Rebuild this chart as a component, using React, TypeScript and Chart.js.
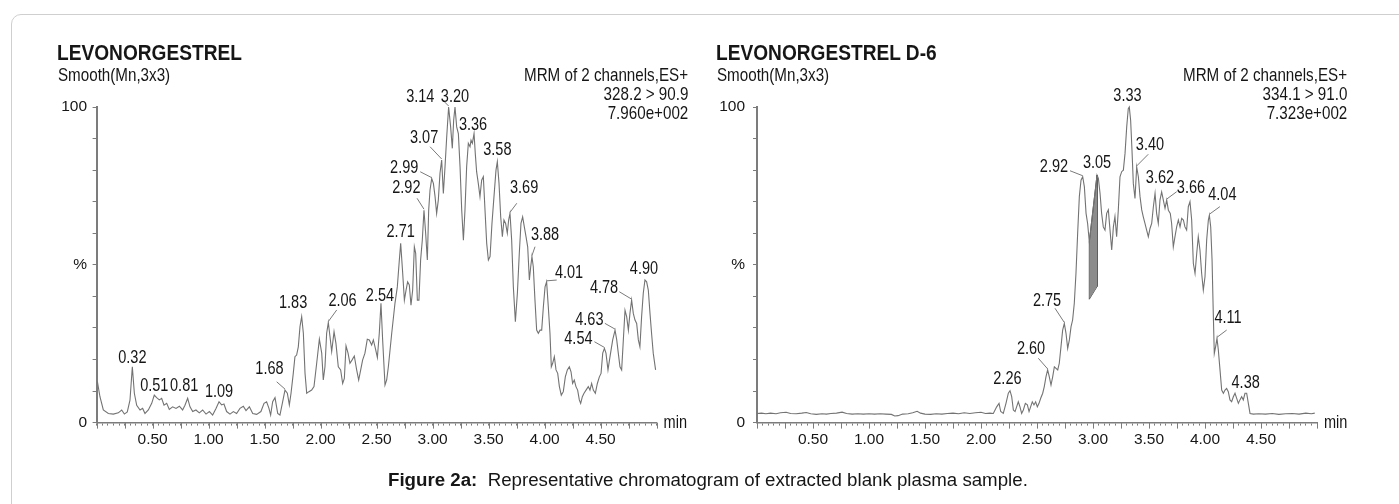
import React, { useEffect, useRef } from 'react';
import { Chart, registerables } from 'chart.js';

Chart.register(...registerables);

// ---------------- data ----------------
// LEVONORGESTREL (left): retention time (min) and relative intensity (%)
const levoTime = [
  0.007, 0.030, 0.060, 0.105, 0.149, 0.194, 0.224, 0.248, 0.274, 0.298,
  0.319, 0.337, 0.358, 0.388, 0.411, 0.432, 0.462, 0.492, 0.515, 0.536,
  0.560, 0.581, 0.602, 0.626, 0.649, 0.679, 0.709, 0.739, 0.768, 0.789,
  0.813, 0.834, 0.858, 0.887, 0.917, 0.947, 0.977, 1.007, 1.036, 1.066,
  1.093, 1.116, 1.137, 1.161, 1.191, 1.221, 1.250, 1.280, 1.310, 1.334,
  1.364, 1.394, 1.429, 1.467, 1.495, 1.518, 1.539, 1.554, 1.572, 1.593,
  1.617, 1.637, 1.661, 1.682, 1.703, 1.721, 1.736, 1.756, 1.771, 1.786,
  1.801, 1.816, 1.831, 1.846, 1.861, 1.876, 1.896, 1.920, 1.941, 1.965,
  1.989, 2.010, 2.024, 2.039, 2.054, 2.069, 2.084, 2.099, 2.120, 2.137,
  2.158, 2.179, 2.197, 2.212, 2.227, 2.245, 2.262, 2.280, 2.301, 2.322,
  2.340, 2.358, 2.375, 2.396, 2.417, 2.435, 2.456, 2.471, 2.489, 2.507,
  2.524, 2.539, 2.554, 2.575, 2.590, 2.605, 2.635, 2.664, 2.685, 2.703,
  2.715, 2.733, 2.748, 2.763, 2.777, 2.792, 2.807, 2.822, 2.837, 2.849,
  2.864, 2.878, 2.893, 2.908, 2.923, 2.938, 2.953, 2.965, 2.977, 2.992,
  3.007, 3.022, 3.036, 3.051, 3.066, 3.081, 3.096, 3.111, 3.126, 3.143,
  3.161, 3.176, 3.188, 3.200, 3.215, 3.230, 3.245, 3.260, 3.275, 3.289,
  3.304, 3.319, 3.334, 3.343, 3.355, 3.370, 3.381, 3.393, 3.408, 3.423,
  3.438, 3.453, 3.468, 3.483, 3.498, 3.513, 3.530, 3.548, 3.566, 3.578,
  3.593, 3.608, 3.623, 3.637, 3.652, 3.667, 3.679, 3.691, 3.706, 3.721,
  3.739, 3.757, 3.774, 3.789, 3.804, 3.819, 3.834, 3.849, 3.864, 3.876,
  3.887, 3.899, 3.914, 3.929, 3.944, 3.959, 3.974, 3.989, 4.004, 4.018,
  4.033, 4.048, 4.060, 4.072, 4.087, 4.102, 4.117, 4.132, 4.149, 4.167,
  4.185, 4.203, 4.221, 4.236, 4.250, 4.265, 4.280, 4.295, 4.310, 4.322,
  4.337, 4.352, 4.370, 4.390, 4.405, 4.420, 4.435, 4.453, 4.471, 4.489,
  4.504, 4.519, 4.534, 4.548, 4.566, 4.584, 4.608, 4.629, 4.644, 4.658,
  4.673, 4.688, 4.703, 4.718, 4.733, 4.748, 4.762, 4.777, 4.792, 4.807,
  4.822, 4.837, 4.851, 4.866, 4.881, 4.896, 4.911, 4.926, 4.941, 4.955,
  4.970, 4.991,
];
const levoPct = [
  13.0, 8.2, 4.0, 2.9, 2.7, 3.1, 4.0, 2.7, 3.4, 7.1,
  17.7, 9.3, 5.5, 4.0, 4.5, 2.9, 4.0, 6.1, 8.7, 7.9,
  7.2, 7.7, 5.5, 6.1, 4.2, 5.0, 4.5, 5.2, 4.0, 5.5,
  7.7, 5.0, 3.5, 4.0, 3.1, 4.0, 2.7, 3.5, 2.4, 4.5,
  6.6, 5.6, 5.9, 3.5, 2.7, 3.5, 2.9, 4.5, 5.2, 3.8,
  5.0, 2.9, 2.6, 3.5, 6.1, 6.6, 4.5, 2.4, 6.6, 7.9,
  2.9, 2.4, 6.6, 10.3, 9.3, 5.6, 9.3, 15.6, 20.9, 21.4,
  24.0, 30.4, 33.6, 28.3, 15.6, 9.3, 9.8, 10.3, 11.4, 18.8,
  26.4, 22.0, 13.5, 17.7, 28.3, 31.7, 27.2, 22.5, 28.8, 25.1,
  17.7, 16.7, 12.4, 14.0, 24.3, 22.0, 18.8, 19.8, 21.1, 16.7,
  13.5, 16.7, 19.8, 22.0, 26.4, 26.2, 24.6, 26.2, 23.5, 20.6,
  28.3, 37.8, 26.2, 11.9, 13.5, 17.7, 28.3, 37.8, 43.0, 51.5,
  56.8, 47.3, 38.8, 42.0, 44.6, 43.6, 37.2, 42.0, 55.7, 53.6,
  38.8, 38.8, 51.5, 57.8, 67.3, 60.0, 51.5, 67.3, 73.7, 77.3,
  75.8, 71.6, 66.3, 70.5, 79.0, 83.2, 72.6, 81.1, 90.6, 100,
  93.7, 86.9, 95.8, 100, 93.7, 91.6, 81.1, 67.3, 57.8, 67.3,
  81.1, 88.5, 87.4, 89.5, 88.5, 91.6, 85.3, 79.5, 75.8, 71.6,
  76.8, 77.9, 67.3, 56.8, 51.5, 52.6, 63.1, 71.6, 80.0, 82.7,
  75.8, 65.2, 58.9, 64.2, 63.1, 60.0, 64.2, 66.3, 57.8, 43.0,
  32.0, 41.0, 53.6, 63.1, 65.2, 62.0, 58.9, 55.7, 45.2, 49.4,
  52.6, 49.4, 38.8, 29.3, 28.3, 29.3, 29.3, 36.7, 43.0, 44.6,
  36.7, 28.3, 17.7, 18.8, 20.9, 16.7, 15.6, 11.4, 8.7, 9.8,
  14.5, 16.7, 17.7, 16.1, 12.4, 13.5, 11.4, 10.3, 7.2, 6.1,
  8.2, 9.3, 10.3, 11.4, 10.3, 12.4, 10.3, 9.3, 12.4, 14.5,
  15.6, 22.0, 23.5, 22.0, 16.7, 20.9, 26.2, 29.3, 26.2, 22.0,
  17.7, 16.7, 26.2, 35.6, 33.5, 29.3, 34.6, 38.8, 34.6, 32.5,
  31.4, 26.2, 24.0, 33.5, 41.0, 45.2, 44.6, 42.0, 34.6, 28.3,
  22.0, 16.7,
];
const levoPeakTimes = [0.32, 0.51, 0.81, 1.09, 1.68, 1.83, 2.06, 2.54, 2.71, 2.92, 2.99, 3.07, 3.14, 3.20, 3.36, 3.58, 3.69, 3.88, 4.01, 4.54, 4.63, 4.78, 4.90];
const levoPeakText = ['0.32', '0.51', '0.81', '1.09', '1.68', '1.83', '2.06', '2.54', '2.71', '2.92', '2.99', '3.07', '3.14', '3.20', '3.36', '3.58', '3.69', '3.88', '4.01', '4.54', '4.63', '4.78', '4.90'];
const levoHeader = ['MRM of 2 channels,ES+', '328.2 > 90.9', '7.960e+002'];

// LEVONORGESTREL D-6 (right)
const d6Time = [
  0.00, 0.04, 0.08, 0.12, 0.17, 0.21, 0.26, 0.30, 0.35, 0.40,
  0.44, 0.48, 0.53, 0.58, 0.62, 0.66, 0.71, 0.76, 0.80, 0.85,
  0.90, 0.95, 1.00, 1.05, 1.10, 1.15, 1.20, 1.23, 1.26, 1.30,
  1.35, 1.39, 1.43, 1.46, 1.50, 1.55, 1.60, 1.65, 1.70, 1.75,
  1.80, 1.85, 1.90, 1.95, 2.00, 2.04, 2.08, 2.11,
  2.140, 2.161, 2.176, 2.199, 2.223, 2.244, 2.259, 2.274, 2.289, 2.304,
  2.318, 2.333, 2.348, 2.363, 2.378, 2.396, 2.414, 2.429, 2.443, 2.458,
  2.473, 2.488, 2.503, 2.518, 2.533, 2.551, 2.565, 2.580, 2.595, 2.610,
  2.625, 2.640, 2.655, 2.670, 2.685, 2.699, 2.714, 2.729, 2.744, 2.759,
  2.774, 2.789, 2.804, 2.818, 2.833, 2.848, 2.863, 2.878, 2.893, 2.908,
  2.923, 2.938, 2.952, 2.967, 3.036, 3.048, 3.063, 3.077, 3.092, 3.107,
  3.122, 3.137, 3.152, 3.167, 3.182, 3.196, 3.211, 3.226, 3.241, 3.256,
  3.271, 3.286, 3.301, 3.315, 3.324, 3.336, 3.348, 3.360, 3.375, 3.390,
  3.405, 3.420, 3.435, 3.449, 3.464, 3.479, 3.494, 3.509, 3.524, 3.539,
  3.554, 3.568, 3.583, 3.598, 3.613, 3.628, 3.643, 3.658, 3.673, 3.690,
  3.702, 3.717, 3.732, 3.747, 3.762, 3.777, 3.792, 3.807, 3.821, 3.836,
  3.851, 3.866, 3.881, 3.896, 3.911, 3.926, 3.940, 3.955, 3.970, 3.985,
  4.000, 4.015, 4.030, 4.039, 4.051, 4.063, 4.074, 4.083, 4.095, 4.107,
  4.119, 4.134, 4.149, 4.164, 4.179, 4.193, 4.208, 4.223, 4.238, 4.253,
  4.268, 4.283, 4.298, 4.312, 4.327, 4.342, 4.357, 4.372, 4.387, 4.402,
  4.432, 4.48, 4.54, 4.60, 4.66, 4.72, 4.78, 4.84, 4.90, 4.95,
  4.98,
];
const d6Pct = [
  2.9, 3.0, 2.8, 3.0, 2.8, 3.1, 3.3, 2.9, 2.8, 3.0,
  3.2, 2.8, 2.6, 2.8, 2.7, 2.9, 3.0, 3.3, 2.9, 2.7,
  2.8, 2.7, 2.8, 2.7, 2.8, 2.7, 2.6, 2.1, 2.2, 2.7,
  2.8, 3.1, 3.6, 3.0, 2.7, 2.6, 2.8, 2.7, 2.9, 3.0,
  2.8, 3.1, 2.9, 3.1, 3.3, 2.9, 3.0, 2.9,
  5.0, 6.1, 3.5, 2.9, 6.1, 9.3, 10.1, 8.2, 4.0, 3.5,
  5.0, 6.6, 5.0, 2.9, 4.0, 6.1, 5.6, 3.5, 5.0, 6.6,
  5.6, 6.6, 5.0, 6.1, 7.7, 9.3, 11.4, 14.5, 16.7, 14.5,
  11.9, 14.5, 17.7, 17.2, 16.7, 18.8, 24.0, 29.3, 31.4, 28.3,
  23.5, 26.2, 30.4, 32.5, 37.8, 47.3, 60.0, 71.6, 76.8, 77.9,
  74.7, 66.3, 63.1, 57.3, 78.4, 77.4, 72.6, 66.3, 62.0, 61.0,
  66.3, 67.4, 61.0, 54.7, 62.0, 65.3, 58.9, 67.4, 77.9, 79.5,
  80.0, 85.3, 93.7, 99.5, 100, 95.8, 86.4, 75.8, 71.0, 81.0,
  77.9, 71.6, 67.4, 65.2, 63.1, 61.0, 58.9, 61.5, 63.1, 68.4,
  72.6, 66.3, 63.1, 70.5, 73.1, 70.5, 67.9, 70.5, 67.3, 66.3,
  63.1, 55.7, 58.9, 62.0, 64.2, 62.0, 64.7, 64.2, 62.0, 61.0,
  68.4, 70.0, 64.2, 50.4, 47.3, 53.6, 58.9, 54.7, 47.3, 42.0,
  46.2, 57.9, 64.2, 65.7, 62.0, 51.5, 34.6, 21.9, 24.1, 26.7,
  23.0, 16.7, 10.3, 9.3, 10.3, 10.8, 9.8, 7.2, 6.6, 8.2,
  9.3, 7.7, 6.1, 7.2, 8.2, 7.2, 9.3, 9.3, 6.1, 2.9,
  2.7, 2.8, 2.7, 2.9, 2.6, 2.8, 2.9, 2.7, 3.0, 2.8,
  3.0,
];
const d6PeakTimes = [2.26, 2.60, 2.75, 2.92, 3.05, 3.33, 3.40, 3.62, 3.66, 4.04, 4.11, 4.38];
const d6PeakText = ['2.26', '2.60', '2.75', '2.92', '3.05', '3.33', '3.40', '3.62', '3.66', '4.04', '4.11', '4.38'];
// integrated (shaded) peak area
const d6AreaTime = [2.967, 3.036];
const d6AreaTop = [57.3, 78.4];
const d6AreaBase = [39.1, 43.1];
const d6Header = ['MRM of 2 channels,ES+', '334.1 > 91.0', '7.323e+002'];

// axis labels
const xTickValues = [0.5, 1.0, 1.5, 2.0, 2.5, 3.0, 3.5, 4.0, 4.5];
const xTickLabels = ['0.50', '1.00', '1.50', '2.00', '2.50', '3.00', '3.50', '4.00', '4.50'];
const yLabelValues = [0, 50, 100];
const yLabelText = ['0', '%', '100'];

// ---------------- layout / style ----------------
const PAGE_W = 1399;
const CANVAS_H = 504;
const PLOT_TOP = 107;
const PLOT_BOTTOM = 422.6;
const X_AXIS_H = 30;
const FONT = '"Liberation Sans", Arial, Helvetica, sans-serif';
const AXIS_COLOR = '#7c7c7c';
const TRACE_COLOR = '#737373';
const TEXT_COLOR = '#161616';
const LABEL_SIZE = 17.5;
const LABEL_SCALE = 0.83;
const TICK_SIZE = 15.5;

type Lbl = { dx: number; dy: number; lead: [number, number] | null };
const L = (dx: number, dy: number, lead: [number, number] | null = null): Lbl => ({ dx, dy, lead });

// label offsets (px) relative to the peak apex
const levoLabelLayout: Lbl[] = [
  L(0, -9), L(0, -9), L(-3.5, -12), L(0, -9.5), L(-15.5, -20.7, [-8.3, -8.3]),
  L(-8.6, -13.6), L(14.2, -21, [8.4, -12.6]), L(-1, -7.5), L(0, -11.6),
  L(-17.6, -21.9, [-6.9, -11.9]), L(-27.5, -10.3, [-11.5, -6.9]), L(-17.6, -21.7, [-11.6, -13.3]),
  L(-28.3, -10.3, [-5, -6]), L(0, -10.3), L(-1, -8), L(0, -11.6),
  L(14.1, -25.1, [6.8, -10.1]), L(13.1, -21.6, [3.1, -9.9]), L(22.4, -8.5, [10.1, -1.8]),
  L(-26, -9.1, [-10, -6.7]), L(-25.7, -10.1, [-10.2, -6.8]), L(-27.6, -11.8, [-12.3, -8.4]), L(-1, -10.7),
];
const d6LabelLayout: Lbl[] = [
  L(-2.6, -11.4), L(-16.6, -20.6, [-9.3, -11.6]), L(-17.3, -22.5, [-9.3, -15.2]),
  L(-28.7, -10, [-12.7, -6]), L(0, -12), L(-1.8, -11), L(13.3, -22, [11.6, -12.7]),
  L(-1.7, -13.6), L(24.3, -11.8, [10, -8.4]), L(13, -20.3, [10.5, -8.6]),
  L(11, -20, [9.7, -8.3]), L(-1, -10),
];

interface PanelSpec {
  time: number[];
  pct: number[];
  peakTimes: number[];
  peakText: string[];
  labelLayout: Lbl[];
  yAxisWidth: number;
  rightPad: number;
  yLabelPad: number;
  area?: { time: number[]; top: number[]; base: number[] };
}

const leftSpec: PanelSpec = {
  time: levoTime, pct: levoPct, peakTimes: levoPeakTimes, peakText: levoPeakText,
  labelLayout: levoLabelLayout, yAxisWidth: 96.6, rightPad: 43.4, yLabelPad: 5.5,
};
const rightSpec: PanelSpec = {
  time: d6Time, pct: d6Pct, peakTimes: d6PeakTimes, peakText: d6PeakText,
  labelLayout: d6LabelLayout, yAxisWidth: 57, rightPad: 82, yLabelPad: 8,
  area: { time: d6AreaTime, top: d6AreaTop, base: d6AreaBase },
};

function peakIndex(time: number[], pct: number[], t: number): number {
  let best = -1;
  for (let i = 0; i < time.length; i++) {
    if (Math.abs(time[i] - t) <= 0.02 && (best < 0 || pct[i] > pct[best])) best = i;
  }
  if (best < 0) {
    let d = Infinity;
    time.forEach((v, i) => { if (Math.abs(v - t) < d) { d = Math.abs(v - t); best = i; } });
  }
  return best;
}

function drawCondensed(ctx: CanvasRenderingContext2D, text: string, x: number, y: number, align: CanvasTextAlign) {
  ctx.save();
  ctx.translate(x, y);
  ctx.scale(LABEL_SCALE, 1);
  ctx.textAlign = align;
  ctx.textBaseline = 'middle';
  ctx.fillText(text, 0, 0);
  ctx.restore();
}

function makeChart(canvas: HTMLCanvasElement, spec: PanelSpec) {
  const datasets: any[] = [
    {
      data: spec.time.map((t, i) => ({ x: t, y: spec.pct[i] })),
      borderColor: TRACE_COLOR,
      borderWidth: 1.1,
      pointRadius: 0,
      tension: 0,
      fill: false,
      clip: 4,
    },
  ];
  if (spec.area) {
    const a = spec.area;
    datasets.push({
      data: a.time.map((t, i) => ({ x: t, y: a.top[i] })),
      borderColor: '#4e4e4e', borderWidth: 1, pointRadius: 0, tension: 0,
      backgroundColor: '#8c8c8c', fill: '+1',
    });
    datasets.push({
      data: a.time.map((t, i) => ({ x: t, y: a.base[i] })),
      borderColor: '#4e4e4e', borderWidth: 1, pointRadius: 0, tension: 0, fill: false,
    });
    datasets.push({
      data: [
        { x: a.time[0], y: a.base[0] }, { x: a.time[0], y: a.top[0] },
        { x: (a.time[0] + a.time[1]) / 2, y: null },
        { x: a.time[1], y: a.top[1] }, { x: a.time[1], y: a.base[1] },
      ],
      borderColor: '#4e4e4e', borderWidth: 1, pointRadius: 0, tension: 0, fill: false, spanGaps: false,
    });
  }

  const decor = {
    id: 'chromDecor',
    afterDatasetsDraw(chart: any) {
      const ctx: CanvasRenderingContext2D = chart.ctx;
      const xs = chart.scales.x;
      const ys = chart.scales.y;
      ctx.save();
      // longer ticks every 0.25 min
      ctx.strokeStyle = AXIS_COLOR;
      ctx.lineWidth = 1;
      for (let k = 0; k <= 20; k++) {
        const px = Math.round(xs.getPixelForValue(k * 0.25)) + 0.5;
        ctx.beginPath();
        ctx.moveTo(px, ys.bottom);
        ctx.lineTo(px, ys.bottom + 6);
        ctx.stroke();
      }
      ctx.fillStyle = TEXT_COLOR;
      ctx.font = `${LABEL_SIZE}px ${FONT}`;
      drawCondensed(ctx, 'min', xs.right + 7, ys.bottom + 1, 'left');
      // peak labels
      spec.peakTimes.forEach((t, i) => {
        const idx = peakIndex(spec.time, spec.pct, t);
        const px = xs.getPixelForValue(spec.time[idx]);
        const py = ys.getPixelForValue(spec.pct[idx]);
        const lay = spec.labelLayout[i];
        if (lay.lead) {
          ctx.strokeStyle = '#7a7a7a';
          ctx.lineWidth = 1;
          ctx.beginPath();
          ctx.moveTo(px + lay.lead[0], py + lay.lead[1]);
          ctx.lineTo(px, py - 1);
          ctx.stroke();
        }
        ctx.fillStyle = TEXT_COLOR;
        drawCondensed(ctx, spec.peakText[i], px + lay.dx, py + lay.dy, 'center');
      });
      ctx.restore();
    },
  };

  return new Chart(canvas, {
    type: 'line',
    data: { datasets },
    options: {
      responsive: false,
      animation: false,
      devicePixelRatio: 1,
      events: [],
      layout: {
        padding: { left: 0, top: PLOT_TOP, right: spec.rightPad, bottom: CANVAS_H - PLOT_BOTTOM - X_AXIS_H },
      },
      plugins: { legend: { display: false }, tooltip: { enabled: false }, title: { display: false } },
      scales: {
        x: {
          type: 'linear',
          min: 0,
          max: 5,
          afterFit: (s: any) => { s.height = X_AXIS_H; },
          ticks: {
            stepSize: 0.05,
            autoSkip: false,
            maxRotation: 0,
            minRotation: 0,
            padding: 4.5,
            color: TEXT_COLOR,
            font: { family: FONT, size: TICK_SIZE },
            callback: (v: any) => {
              const i = xTickValues.findIndex((tv) => Math.abs(tv - Number(v)) < 1e-6);
              return i >= 0 ? xTickLabels[i] : '';
            },
          },
          grid: { drawOnChartArea: false, drawTicks: true, tickLength: 3, tickColor: AXIS_COLOR, tickWidth: 1 },
          border: { display: true, color: AXIS_COLOR, width: 1.5 },
        },
        y: {
          type: 'linear',
          min: 0,
          max: 100,
          afterFit: (s: any) => { s.width = spec.yAxisWidth; },
          ticks: {
            stepSize: 10,
            autoSkip: false,
            padding: spec.yLabelPad,
            color: TEXT_COLOR,
            font: { family: FONT, size: TICK_SIZE },
            callback: (v: any) => {
              const i = yLabelValues.findIndex((yv) => Math.abs(yv - Number(v)) < 1e-6);
              return i >= 0 ? yLabelText[i] : '';
            },
          },
          grid: { drawOnChartArea: false, drawTicks: true, tickLength: 4, tickColor: AXIS_COLOR, tickWidth: 1 },
          border: { display: true, color: AXIS_COLOR, width: 2 },
        },
      },
    } as any,
    plugins: [decor],
  });
}

function Txt(props: { x: number; base: number; size: number; scale?: number; bold?: boolean; align?: 'left' | 'right'; children: React.ReactNode }) {
  const { x, base, size, scale = 1, bold = false, align = 'left', children } = props;
  const style: React.CSSProperties = {
    position: 'absolute',
    top: base - 0.8465 * size,
    fontSize: size,
    lineHeight: `${size}px`,
    fontWeight: bold ? 700 : 400,
    whiteSpace: 'pre',
    transform: `scaleX(${scale})`,
    transformOrigin: align === 'right' ? 'right top' : 'left top',
    textAlign: align,
  };
  if (align === 'right') style.right = PAGE_W - x;
  else style.left = x;
  return <div style={style}>{children}</div>;
}

export default function App() {
  const leftRef = useRef<HTMLCanvasElement>(null);
  const rightRef = useRef<HTMLCanvasElement>(null);

  useEffect(() => {
    const a = makeChart(leftRef.current as HTMLCanvasElement, leftSpec);
    const b = makeChart(rightRef.current as HTMLCanvasElement, rightSpec);
    return () => {
      a.destroy();
      b.destroy();
    };
  }, []);

  const HS = 18.5; // header font size
  const HX = 0.82; // header horizontal scale
  return (
    <div
      style={{
        position: 'fixed', left: 0, top: 0, width: PAGE_W, height: CANVAS_H, overflow: 'hidden',
        background: '#ffffff', fontFamily: FONT, color: TEXT_COLOR,
      }}
    >
      <div
        style={{
          position: 'absolute', left: 11, top: 14, width: 1430, height: 560,
          border: '1px solid #cfcfcf', borderRadius: 10, boxSizing: 'border-box',
        }}
      />
      <canvas ref={leftRef} width={700} height={CANVAS_H} style={{ position: 'absolute', left: 0, top: 0, width: 700, height: CANVAS_H }} />
      <canvas ref={rightRef} width={699} height={CANVAS_H} style={{ position: 'absolute', left: 700, top: 0, width: 699, height: CANVAS_H }} />

      <Txt x={57} base={61} size={22.5} scale={0.85} bold>LEVONORGESTREL</Txt>
      <Txt x={57.5} base={81.5} size={HS} scale={HX}>Smooth(Mn,3x3)</Txt>
      {levoHeader.map((s, i) => (
        <Txt key={'l' + i} x={688} base={81.5 + 19 * i} size={HS} scale={HX} align="right">{s}</Txt>
      ))}

      <Txt x={716} base={61} size={22.5} scale={0.85} bold>LEVONORGESTREL D-6</Txt>
      <Txt x={717} base={81.5} size={HS} scale={HX}>Smooth(Mn,3x3)</Txt>
      {d6Header.map((s, i) => (
        <Txt key={'r' + i} x={1347} base={81.5 + 19 * i} size={HS} scale={HX} align="right">{s}</Txt>
      ))}

      <Txt x={388} base={486.5} size={18.7}>
        <b>Figure 2a:</b>{'  Representative chromatogram of extracted blank plasma sample.'}
      </Txt>
    </div>
  );
}
